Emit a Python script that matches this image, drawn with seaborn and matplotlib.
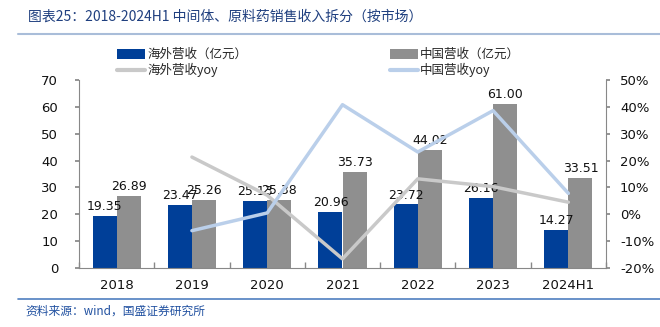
import matplotlib
matplotlib.use("Agg")
import matplotlib.pyplot as plt
import seaborn as sns
import pandas as pd
import numpy as np
from matplotlib.patches import Patch
from matplotlib.lines import Line2D

sns.set_theme(style="white")
plt.rcParams['font.family'] = ['Noto Sans CJK SC', 'DejaVu Sans']

categories = ["2018", "2019", "2020", "2021", "2022", "2023", "2024H1"]
overseas_rev = [19.35, 23.47, 25.13, 20.96, 23.72, 26.16, 14.27]
china_rev = [26.89, 25.26, 25.38, 35.73, 44.02, 61.00, 33.51]
overseas_yoy = [np.nan, 21.3, 7.1, -16.6, 13.2, 10.3, 4.5]
china_yoy = [np.nan, -6.1, 0.5, 40.8, 23.2, 38.6, 7.8]

s_over = "海外营收（亿元）"
s_china = "中国营收（亿元）"
l_over = "海外营收yoy"
l_china = "中国营收yoy"

c_blue = "#003F98"
c_gray = "#8F8F8F"
c_lgray = "#C9C9C9"
c_lblue = "#BACFEA"

bars = pd.DataFrame({
    "year": categories * 2,
    "value": overseas_rev + china_rev,
    "series": [s_over] * len(categories) + [s_china] * len(categories),
})
lines = pd.DataFrame({
    "year": categories * 2,
    "yoy": overseas_yoy + china_yoy,
    "series": [l_over] * len(categories) + [l_china] * len(categories),
})

fig = plt.figure(figsize=(6.6, 3.27), dpi=100)
ax = fig.add_axes([79/660, 1-268/327, (606-79)/660, (268-80)/327])

sns.barplot(data=bars, x="year", y="value", hue="series", order=categories,
            palette=[c_blue, c_gray], width=0.64, ax=ax, legend=False,
            saturation=1, edgecolor="none")
for cont in ax.containers:
    ax.bar_label(cont, fmt="%.2f", fontsize=9, padding=2, color="#111111",
                 family="DejaVu Sans")

ax2 = ax.twinx()
sns.lineplot(data=lines, x="year", y="yoy", hue="series",
             palette=[c_lgray, c_lblue], linewidth=2.5, ax=ax2, legend=False,
             sort=False)

ax.set_ylim(0, 70)
ax.set_yticks(range(0, 71, 10))
ax2.set_ylim(-20, 50)
ax2.set_yticks(range(-20, 51, 10))
ax2.set_yticklabels([f"{v}%" for v in range(-20, 51, 10)])
ax.set_xlim(-0.5, len(categories) - 0.5)
ax.set_xlabel("")
ax.set_ylabel("")
ax2.set_xlabel("")
ax2.set_ylabel("")

for a in (ax, ax2):
    for sp in a.spines.values():
        sp.set_visible(False)
ax.spines["left"].set_visible(True)
ax.spines["bottom"].set_visible(True)
ax2.spines["right"].set_visible(True)
for sp in (ax.spines["left"], ax.spines["bottom"], ax2.spines["right"]):
    sp.set_color("#888888")
    sp.set_linewidth(0.8)

ax.tick_params(axis="y", which="major", direction="out", length=3, color="#888888",
               labelsize=9.5, pad=12, left=True)
ax2.tick_params(axis="y", which="major", direction="out", length=3, color="#888888",
                labelsize=9.5, pad=7, right=True)
ax.tick_params(axis="x", which="major", length=0, labelsize=9.5, pad=8)
ax.set_xticks(np.arange(-0.5, len(categories), 1), minor=True)
ax.tick_params(axis="x", which="minor", direction="in", length=4, color="#888888",
               bottom=True)
for lab in ax.get_yticklabels() + ax2.get_yticklabels() + ax.get_xticklabels():
    lab.set_family("DejaVu Sans")
    lab.set_color("#111111")

# legends
h1 = [Patch(facecolor=c_blue, edgecolor="none"), Line2D([], [], color=c_lgray, lw=3)]
h2 = [Patch(facecolor=c_gray, edgecolor="none"), Line2D([], [], color=c_lblue, lw=3)]
kw = dict(frameon=False, fontsize=9, handlelength=2.2, handleheight=0.9,
          handletextpad=0.2, labelspacing=0.15, borderpad=0, loc="upper left")
fig.legend(h1, [s_over, l_over], bbox_to_anchor=(111/660, 1-42/327), **kw)
fig.legend(h2, [s_china, l_china], bbox_to_anchor=(384/660, 1-42/327), **kw)

# title and decorations
fig.text(28/660, 1-17/327, "图表25：2018-2024H1 中间体、原料药销售收入拆分（按市场）",
         fontsize=10, color="#1F3F7F", va="center", ha="left", style="italic")
fig.add_artist(Line2D([18/660, 1], [1-34/327, 1-34/327], color="#A9BDD9", lw=1.5,
                      transform=fig.transFigure))
fig.add_artist(Line2D([18/660, 1], [1-299/327, 1-299/327], color="#4F7FC0", lw=1.2,
                      transform=fig.transFigure))
fig.text(25/660, 1-311/327, "资料来源：wind，国盛证券研究所", fontsize=8.5,
         color="#2050A0", va="center", ha="left", style="italic")

fig.savefig("out.png", dpi=100, facecolor="white")
